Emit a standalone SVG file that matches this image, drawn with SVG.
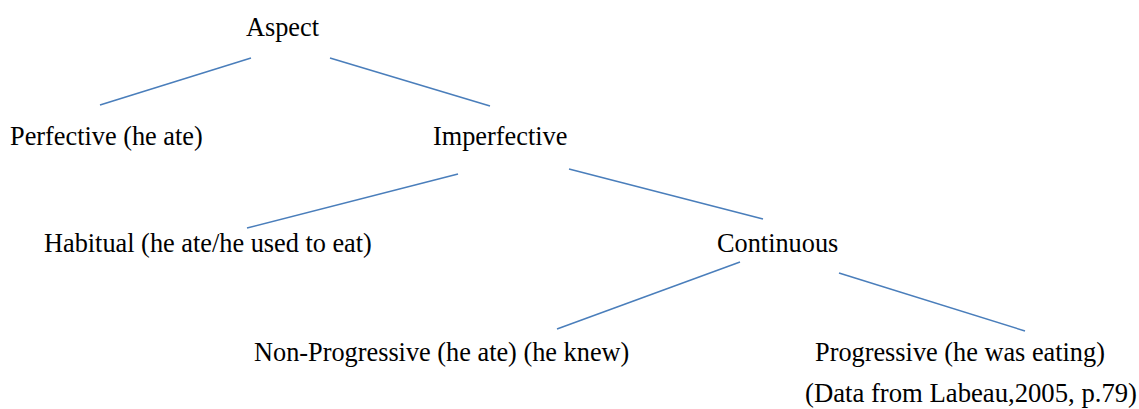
<svg xmlns="http://www.w3.org/2000/svg" width="1139" height="409" viewBox="0 0 1139 409">
<style>
text{font-family:"Liberation Serif","Times New Roman",serif;font-size:26.3px;fill:#000}
.c line{stroke:#4a7ebb;stroke-width:1.5}
</style>
<rect width="1139" height="409" fill="#fff"/>
<g class="c" id="connectors">
<line x1="251" y1="58" x2="100" y2="105"/>
<line x1="330" y1="58" x2="490" y2="106"/>
<line x1="458" y1="174" x2="247" y2="228"/>
<line x1="569" y1="169" x2="763" y2="219"/>
<line x1="740" y1="262" x2="557" y2="329"/>
<line x1="839" y1="273" x2="1025" y2="331"/>
</g>
<g id="aspect"><text x="246" y="36">Aspect</text></g>
<g id="perfective"><text x="10" y="145">Perfective (he ate)</text></g>
<g id="imperfective"><text x="433" y="145">Imperfective</text></g>
<g id="habitual"><text x="44" y="252">Habitual (he ate/he used to eat)</text></g>
<g id="continuous"><text x="717" y="252">Continuous</text></g>
<g id="nonprogressive"><text x="254" y="361">Non-Progressive (he ate) (he knew)</text></g>
<g id="progressive"><text x="815" y="361">Progressive (he was eating)</text></g>
<g id="source"><text x="805" y="402" style="font-size:26.7px">(Data from Labeau,2005, p.79)</text></g>
</svg>
